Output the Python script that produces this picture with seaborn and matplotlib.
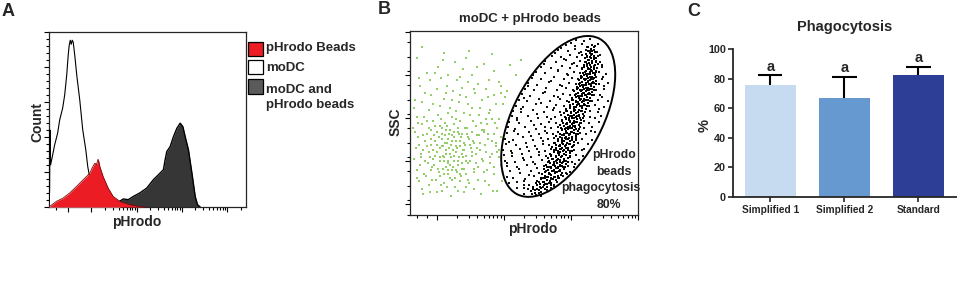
import numpy as np
import matplotlib
matplotlib.use("Agg")
import matplotlib.pyplot as plt
import matplotlib.transforms as mtransforms
from matplotlib.patches import Ellipse, Rectangle
from matplotlib.ticker import FixedLocator, MultipleLocator
import seaborn as sns

# ---------------- data ----------------
# panel A: flow histograms (x = pHrodo in decades, y = % of max count)
modc_x = [0.063, 0.074, 0.081, 0.096, 0.141, 0.185, 0.252, 0.296, 0.363, 0.407, 0.452, 0.485,
          0.507, 0.530, 0.552, 0.574, 0.596, 0.630, 0.674, 0.741, 0.807, 0.874, 0.918, 0.963,
          1.030, 1.185, 1.407, 1.630]
modc_y = [0.2, 9.9, 44.0, 24.1, 29.8, 35.5, 42.3, 49.7, 56.6, 64.0, 75.4, 86.7,
          92.4, 95.3, 93.0, 95.3, 94.2, 86.7, 75.4, 61.1, 44.0, 32.7, 23.0, 16.7,
          9.9, 4.2, 1.3, 0.2]

beads_x = [0.074, 0.222, 0.370, 0.518, 0.667, 0.814, 0.963, 1.020, 1.074, 1.110, 1.147,
           1.165, 1.185, 1.258, 1.370, 1.481, 1.630, 1.852, 2.074, 2.222]
beads_y = [0.3, 3.2, 5.1, 8.0, 11.7, 15.5, 19.3, 22.6, 25.0, 24.2, 27.3,
           25.8, 23.1, 17.4, 10.8, 6.0, 3.2, 1.3, 0.3, 0.0]

both_x = [1.407, 1.592, 1.703, 1.814, 1.925, 2.074, 2.223, 2.370, 2.481, 2.592, 2.630,
          2.667, 2.741, 2.814, 2.890, 2.963, 3.023, 3.074, 3.147, 3.223, 3.296, 3.347, 3.407]
both_y = [0.0, 2.7, 4.6, 4.2, 6.0, 8.1, 10.8, 15.6, 18.4, 21.3, 27.0,
          31.7, 34.5, 40.2, 45.0, 47.9, 45.9, 40.2, 32.6, 19.4, 6.0, 1.3, 0.0]

legend_labels = ["pHrodo Beads", "moDC", "moDC and\npHrodo beads"]

# panel B: dot plot events (x = pHrodo decades, y = SSC scale 0-100)
ungated_pts = [
    (-0.22, 91), (0.11, 88), (0.48, 89), (0.27, 83), (0.70, 82), (1.09, 81), (1.25, 84),
    (-0.15, 77), (0.39, 79), (0.60, 80), (0.86, 78), (0.02, 80), (1.18, 76), (-0.30, 85),
    (-0.33, 62), (-0.25, 70), (-0.18, 66), (-0.10, 73), (-0.05, 60), (0.00, 68), (0.06, 74),
    (0.10, 63), (0.15, 70), (0.20, 58), (0.24, 67), (0.30, 73), (0.33, 61), (0.38, 69),
    (0.43, 64), (0.47, 72), (0.52, 58), (0.57, 66), (0.62, 71), (0.68, 62), (0.73, 68),
    (0.80, 57), (0.85, 65), (0.92, 72), (0.98, 60), (1.05, 67), (1.01, 64), (0.95, 66),
    (0.28, 56), (-0.12, 57),
    (-0.30, 53), (-0.14, 51), (0.02, 54), (0.12, 50), (0.22, 53), (0.35, 51), (0.50, 54),
    (0.66, 50), (0.82, 52), (0.92, 52), (0.78, 55),
    (-0.35, 47), (-0.22, 49), (-0.08, 46), (0.05, 48), (0.14, 46), (0.26, 49), (0.31, 45),
    (0.42, 47), (0.58, 48), (0.71, 46), (0.90, 47), (0.86, 44), (0.75, 49),
    (-0.28, 42), (-0.17, 40), (-0.04, 43), (0.08, 41), (0.18, 44), (0.23, 40), (0.36, 42),
    (0.45, 44), (0.54, 40), (0.63, 43), (0.77, 41), (0.95, 42), (0.88, 39), (0.70, 45),
    (-0.31, 36), (-0.20, 35), (-0.09, 38), (0.00, 34), (0.07, 37), (0.13, 35), (0.21, 38),
    (0.29, 34), (0.34, 37), (0.41, 35), (0.49, 38), (0.60, 36), (0.74, 34), (0.88, 37),
    (0.92, 35), (0.82, 33),
    (-0.34, 30), (-0.24, 31), (-0.13, 28), (-0.02, 32), (0.04, 29), (0.11, 31), (0.17, 28),
    (0.25, 32), (0.32, 29), (0.39, 31), (0.46, 28), (0.53, 32), (0.67, 30), (0.79, 28),
    (0.93, 31), (0.96, 27),
    (-0.29, 24), (-0.19, 22), (-0.07, 26), (0.03, 23), (0.09, 25), (0.16, 22), (0.24, 26),
    (0.30, 23), (0.37, 25), (0.44, 22), (0.56, 25), (0.70, 23), (0.85, 26), (0.98, 23),
    (-0.26, 18), (-0.12, 16), (-0.01, 19), (0.10, 17), (0.19, 20), (0.27, 15), (0.35, 18),
    (0.48, 17), (0.61, 19), (0.78, 16), (0.97, 18),
    (-0.21, 11), (0.01, 12), (0.21, 10), (0.40, 12), (0.66, 11), (0.90, 13),
    (-0.15, 44), (-0.11, 34), (-0.06, 30), (-0.03, 40), (0.01, 45), (0.04, 36), (0.09, 32),
    (0.12, 43), (0.15, 39), (0.16, 29), (0.19, 33), (0.22, 24), (0.26, 42), (0.28, 37),
    (0.31, 27), (0.33, 44), (0.37, 33), (0.40, 39), (0.43, 29), (0.05, 21), (0.13, 26),
    (0.20, 46), (0.27, 20), (-0.09, 24), (0.08, 47), (0.36, 21), (0.47, 42), (0.52, 34),
    (0.58, 28), (0.64, 39),
    (-0.32, 45), (-0.27, 38), (-0.25, 27), (-0.23, 33), (-0.20, 43), (-0.18, 29), (-0.16, 21),
    (-0.14, 37), (-0.12, 47), (-0.10, 31), (-0.08, 41), (-0.07, 19), (-0.05, 35), (-0.04, 27),
    (-0.02, 48), (0.00, 38), (0.02, 25), (0.03, 42), (0.05, 31), (0.06, 16), (0.07, 44),
    (0.09, 37), (0.10, 22), (0.11, 29), (0.12, 39), (0.14, 33), (0.15, 48), (0.16, 24),
    (0.17, 41), (0.18, 36), (0.20, 27), (0.21, 31), (0.22, 43), (0.23, 19), (0.24, 35),
    (0.25, 45), (0.26, 29), (0.28, 40), (0.29, 24), (0.30, 36), (0.32, 47), (0.33, 31),
    (0.34, 22), (0.35, 40), (0.37, 28), (0.38, 44), (0.39, 35), (0.41, 25), (0.42, 38),
    (0.44, 32), (0.45, 47), (0.46, 19), (0.48, 41), (0.50, 29), (0.51, 36), (0.53, 45),
    (0.55, 23), (0.56, 39), (0.59, 33), (0.60, 43), (0.62, 26), (0.65, 35), (0.67, 46),
    (0.69, 29), (0.72, 38), (0.75, 24), (0.77, 44), (0.80, 31), (0.83, 40), (0.86, 22),
    (0.89, 34), (-0.30, 20), (-0.22, 14), (-0.10, 12), (0.07, 13), (0.15, 15), (0.31, 13),
    (0.44, 15), (0.55, 14), (0.72, 18), (0.84, 13), (-0.28, 50), (-0.19, 53), (-0.06, 51),
    (0.06, 52), (0.17, 55), (0.29, 52), (0.41, 55), (0.54, 51), (0.63, 54), (0.74, 52),
    (0.87, 50),
    (-0.34, 58), (-0.22, 61), (-0.08, 65), (0.04, 59), (0.13, 66), (0.22, 62), (0.35, 65),
    (0.46, 60), (0.55, 68), (0.65, 58), (0.77, 64), (0.88, 60), (-0.27, 74), (-0.02, 77),
    (0.17, 76), (0.35, 75), (0.53, 76), (0.78, 73), (0.96, 70), (0.09, 84), (0.44, 85),
    (0.83, 87),
]

gated_pts = [
    (1.30, 11.3), (1.42, 11.3), (1.48, 10.4), (1.52, 11.9), (1.55, 10.2),
    (1.20, 14.6), (1.30, 14.6), (1.36, 13.9), (1.46, 13.5), (1.58, 14.9), (1.64, 13.2), (1.71, 14.4),
    (1.08, 17.2), (1.20, 17.4), (1.30, 16.0), (1.38, 16.3), (1.52, 17.8), (1.62, 16.6), (1.68, 17.2),
    (1.74, 16.1), (1.79, 17.6),
    (1.04, 20.6), (1.14, 20.1), (1.31, 19.4), (1.45, 20.8), (1.58, 19.8), (1.65, 20.6), (1.70, 19.2),
    (1.75, 20.3), (1.81, 19.7), (1.88, 20.9),
    (1.09, 23.5), (1.24, 22.4), (1.40, 23.8), (1.53, 22.7), (1.63, 23.4), (1.69, 22.2), (1.74, 23.9),
    (1.79, 22.9), (1.84, 23.6), (1.92, 22.5), (1.98, 23.2),
    (1.05, 26.2), (1.19, 25.6), (1.34, 26.9), (1.49, 25.3), (1.60, 26.5), (1.68, 25.9), (1.73, 26.8),
    (1.78, 25.4), (1.83, 26.3), (1.88, 25.7), (1.95, 26.6), (2.05, 25.9),
    (1.02, 29.3), (1.16, 28.5), (1.30, 29.8), (1.44, 28.7), (1.57, 29.5), (1.66, 28.3), (1.73, 29.9),
    (1.78, 28.9), (1.83, 29.6), (1.88, 28.4), (1.93, 29.2), (2.01, 28.8), (2.12, 29.7),
    (1.00, 32.4), (1.12, 31.6), (1.27, 32.9), (1.41, 31.4), (1.53, 32.6), (1.63, 31.8), (1.71, 32.2),
    (1.77, 31.3), (1.82, 32.8), (1.87, 31.9), (1.92, 32.5), (1.98, 31.5), (2.07, 32.3), (2.18, 31.7),
    (0.99, 35.1), (1.10, 34.4), (1.24, 35.7), (1.38, 34.6), (1.50, 35.4), (1.61, 34.3), (1.70, 35.8),
    (1.77, 34.9), (1.83, 35.5), (1.88, 34.5), (1.93, 35.9), (1.99, 34.7), (2.05, 35.3), (2.16, 34.8),
    (1.03, 38.3), (1.18, 37.6), (1.33, 38.8), (1.47, 37.4), (1.59, 38.5), (1.68, 37.9), (1.76, 38.6),
    (1.82, 37.5), (1.87, 38.9), (1.92, 37.7), (1.97, 38.2), (2.03, 37.3), (2.10, 38.7), (2.25, 38.1),
    (1.01, 41.2), (1.14, 40.6), (1.29, 41.9), (1.43, 40.4), (1.56, 41.6), (1.66, 40.8), (1.74, 41.4),
    (1.81, 40.3), (1.87, 41.8), (1.92, 40.9), (1.97, 41.5), (2.02, 40.5), (2.08, 41.7), (2.17, 41.1),
    (2.31, 40.7),
    (1.04, 44.4), (1.21, 43.6), (1.37, 44.8), (1.52, 43.5), (1.64, 44.2), (1.73, 43.8), (1.81, 44.7),
    (1.87, 43.4), (1.92, 44.5), (1.97, 43.9), (2.02, 44.8), (2.07, 43.7), (2.13, 44.3), (2.22, 43.6),
    (2.36, 44.6),
    (1.06, 47.3), (1.16, 46.7), (1.32, 47.8), (1.48, 46.5), (1.61, 47.5), (1.71, 46.9), (1.80, 47.7),
    (1.87, 46.4), (1.93, 47.2), (1.98, 46.8), (2.03, 47.9), (2.08, 46.6), (2.13, 47.4), (2.20, 46.9),
    (2.32, 47.6),
    (1.08, 50.2), (1.22, 49.6), (1.40, 50.8), (1.55, 49.4), (1.68, 50.5), (1.78, 49.8), (1.86, 50.6),
    (1.93, 49.3), (1.98, 50.9), (2.03, 49.7), (2.08, 50.4), (2.13, 49.5), (2.19, 50.7), (2.27, 49.9),
    (2.42, 50.3),
    (1.12, 53.4), (1.19, 52.6), (1.36, 53.7), (1.51, 52.4), (1.65, 53.2), (1.76, 52.8), (1.85, 53.9),
    (1.93, 52.5), (1.99, 53.5), (2.04, 52.7), (2.09, 53.8), (2.14, 52.3), (2.20, 53.3), (2.29, 52.9),
    (2.45, 53.6),
    (1.14, 56.3), (1.26, 55.7), (1.44, 56.8), (1.60, 55.5), (1.73, 56.6), (1.84, 55.9), (1.93, 56.4),
    (2.00, 55.4), (2.06, 56.9), (2.11, 55.8), (2.16, 56.5), (2.21, 55.6), (2.28, 56.2), (2.40, 55.9),
    (1.18, 59.2), (1.29, 58.6), (1.48, 59.8), (1.64, 58.4), (1.78, 59.5), (1.89, 58.8), (1.98, 59.6),
    (2.05, 58.5), (2.11, 59.9), (2.16, 58.7), (2.21, 59.3), (2.27, 58.9), (2.36, 59.7), (2.50, 58.6),
    (1.22, 62.3), (1.34, 61.7), (1.53, 62.8), (1.69, 61.5), (1.83, 62.6), (1.94, 61.9), (2.03, 62.4),
    (2.10, 61.4), (2.15, 62.9), (2.20, 61.8), (2.25, 62.5), (2.31, 61.6), (2.40, 62.2), (2.55, 61.9),
    (1.27, 65.4), (1.39, 64.6), (1.58, 65.8), (1.74, 64.5), (1.88, 65.6), (1.99, 64.9), (2.07, 65.3),
    (2.13, 64.4), (2.18, 65.9), (2.23, 64.8), (2.28, 65.5), (2.34, 64.7), (2.44, 65.2),
    (1.32, 68.3), (1.45, 67.6), (1.63, 68.7), (1.79, 67.4), (1.93, 68.5), (2.03, 67.8), (2.11, 68.6),
    (2.17, 67.5), (2.22, 68.9), (2.27, 67.7), (2.32, 68.4), (2.38, 67.9), (2.50, 68.2),
    (1.36, 71.2), (1.50, 70.6), (1.68, 71.8), (1.84, 70.4), (1.97, 71.5), (2.07, 70.8), (2.14, 71.6),
    (2.20, 70.3), (2.25, 71.9), (2.30, 70.7), (2.35, 71.4), (2.42, 70.9), (2.55, 71.3),
    (1.42, 74.4), (1.56, 73.6), (1.74, 74.8), (1.89, 73.5), (2.01, 74.3), (2.10, 73.9), (2.17, 74.6),
    (2.23, 73.4), (2.28, 74.9), (2.33, 73.8), (2.38, 74.5), (2.46, 73.7),
    (1.48, 77.3), (1.62, 76.7), (1.80, 77.8), (1.94, 76.5), (2.05, 77.4), (2.14, 76.9), (2.21, 77.6),
    (2.26, 76.4), (2.31, 77.9), (2.36, 76.8), (2.42, 77.2), (2.52, 76.6),
    (1.55, 80.2), (1.70, 79.6), (1.86, 80.7), (1.99, 79.4), (2.09, 80.5), (2.17, 79.8), (2.24, 80.6),
    (2.29, 79.3), (2.34, 80.8), (2.39, 79.7), (2.46, 80.3),
    (1.62, 83.4), (1.77, 82.7), (1.92, 83.8), (2.04, 82.5), (2.13, 83.3), (2.21, 82.9), (2.27, 83.7),
    (2.32, 82.4), (2.37, 83.6), (2.43, 82.8),
    (1.72, 86.3), (1.85, 85.6), (1.98, 86.7), (2.09, 85.4), (2.17, 86.5), (2.24, 85.8), (2.30, 86.6),
    (2.35, 85.5), (2.41, 86.2),
    (1.80, 89.2), (1.95, 88.6), (2.06, 89.7), (2.15, 88.4), (2.22, 89.4), (2.28, 88.8), (2.34, 89.5),
    (2.39, 88.5),
    (1.93, 92.1), (2.06, 91.5), (2.16, 92.6), (2.24, 91.3), (2.31, 92.3), (2.36, 91.7),
    (2.08, 95.0), (2.20, 94.4), (2.29, 95.3),
    (1.05, 27.8), (1.12, 33.5), (1.08, 39.6), (1.15, 45.2), (1.20, 51.5), (1.25, 57.4),
    (1.30, 63.1), (1.36, 69.6), (1.44, 75.6), (1.60, 81.7), (1.76, 87.6), (1.85, 90.7),
    (1.22, 24.6), (1.28, 30.7), (1.35, 36.9), (1.40, 42.6), (1.45, 48.7), (1.50, 54.6),
    (1.56, 60.5), (1.62, 66.4), (1.70, 72.3), (1.80, 78.4), (1.90, 84.5), (2.00, 93.3),
    (1.30, 18.3), (1.38, 21.6), (1.46, 27.6), (1.52, 33.7), (1.58, 39.7), (1.62, 45.6),
    (1.70, 51.7), (1.74, 57.7), (1.80, 63.7), (1.86, 69.8), (1.95, 75.8), (2.02, 81.8),
    (2.12, 87.8), (2.30, 45.5), (2.36, 52.2), (2.42, 57.3), (2.47, 63.6), (2.50, 70.1),
    (2.48, 74.8), (2.47, 81.3), (2.44, 86.9), (2.40, 92.5), (2.20, 35.6), (2.06, 27.4),
    (1.94, 21.8), (1.74, 15.6),
]

gated_core = [
    (1.40, 12.8), (1.46, 11.9), (1.52, 13.1), (1.56, 12.2),
    (1.44, 15.2), (1.49, 16.1), (1.54, 14.8), (1.60, 15.9), (1.65, 15.0), (1.70, 16.3),
    (1.50, 18.2), (1.55, 19.1), (1.60, 17.9), (1.65, 18.9), (1.69, 18.1), (1.73, 19.3), (1.78, 18.5),
    (1.57, 21.8), (1.62, 20.9), (1.67, 22.1), (1.71, 21.2), (1.76, 22.3), (1.80, 21.0), (1.85, 21.7),
    (1.60, 24.9), (1.66, 24.0), (1.71, 25.1), (1.75, 24.2), (1.80, 25.3), (1.84, 24.4), (1.89, 24.8),
    (1.63, 27.1), (1.69, 28.0), (1.74, 27.3), (1.79, 28.2), (1.83, 27.0), (1.87, 27.8), (1.92, 27.4),
    (1.66, 30.9), (1.72, 30.1), (1.77, 31.2), (1.81, 30.3), (1.85, 31.0), (1.89, 30.2), (1.95, 30.7),
    (1.69, 33.1), (1.75, 34.0), (1.80, 33.3), (1.84, 34.2), (1.89, 33.0), (1.93, 33.9), (1.99, 33.5),
    (1.72, 36.9), (1.78, 36.1), (1.83, 37.2), (1.87, 36.3), (1.91, 37.0), (1.95, 36.2), (2.01, 36.8),
    (1.75, 39.1), (1.81, 40.0), (1.86, 39.3), (1.90, 40.2), (1.94, 39.0), (1.98, 39.8), (2.04, 39.4),
    (1.78, 42.9), (1.84, 42.1), (1.89, 43.2), (1.93, 42.3), (1.97, 43.0), (2.01, 42.2), (2.07, 42.7),
    (1.81, 45.1), (1.87, 46.0), (1.92, 45.3), (1.96, 46.2), (2.00, 45.0), (2.04, 45.8), (2.10, 45.4),
    (1.83, 48.9), (1.89, 48.1), (1.94, 49.2), (1.98, 48.3), (2.02, 49.0), (2.06, 48.2), (2.12, 48.7),
    (1.86, 51.1), (1.92, 52.0), (1.97, 51.3), (2.01, 52.2), (2.05, 51.0), (2.09, 51.8), (2.15, 51.4),
    (1.89, 54.9), (1.95, 54.1), (2.00, 55.2), (2.04, 54.3), (2.08, 55.0), (2.12, 54.2), (2.18, 54.7),
    (1.93, 57.1), (1.99, 58.0), (2.04, 57.3), (2.08, 58.2), (2.12, 57.0), (2.16, 57.8), (2.22, 57.4),
    (1.97, 60.9), (2.03, 60.1), (2.08, 61.2), (2.12, 60.3), (2.16, 61.0), (2.20, 60.2), (2.25, 60.7),
    (2.01, 63.1), (2.07, 64.0), (2.12, 63.3), (2.16, 64.2), (2.20, 63.0), (2.24, 63.8), (2.29, 63.4),
    (2.05, 66.9), (2.11, 66.1), (2.15, 67.2), (2.19, 66.3), (2.23, 67.0), (2.27, 66.2), (2.31, 66.7),
    (2.09, 69.1), (2.14, 70.0), (2.18, 69.3), (2.22, 70.2), (2.26, 69.0), (2.30, 69.8), (2.34, 69.4),
    (2.12, 72.9), (2.17, 72.1), (2.21, 73.2), (2.25, 72.3), (2.29, 73.0), (2.33, 72.2), (2.37, 72.7),
    (2.15, 75.1), (2.20, 76.0), (2.24, 75.3), (2.28, 76.2), (2.32, 75.0), (2.36, 75.8),
    (2.17, 78.9), (2.22, 78.1), (2.26, 79.2), (2.30, 78.3), (2.34, 79.0), (2.38, 78.2),
    (2.19, 81.1), (2.24, 82.0), (2.28, 81.3), (2.32, 82.2), (2.36, 81.0), (2.40, 81.8),
    (2.21, 84.9), (2.26, 84.1), (2.30, 85.2), (2.34, 84.3), (2.38, 85.0),
    (2.23, 87.1), (2.28, 88.0), (2.32, 87.3), (2.36, 88.2),
    (2.25, 90.9), (2.30, 90.1), (2.34, 91.0),
    (1.44, 14.0), (1.50, 13.6), (1.56, 14.3), (1.61, 13.8),
    (1.48, 17.0), (1.54, 16.6), (1.59, 17.4), (1.64, 16.8), (1.70, 17.3),
    (1.55, 20.0), (1.61, 19.6), (1.66, 20.4), (1.71, 19.8), (1.76, 20.3), (1.82, 19.9),
    (1.61, 23.1), (1.67, 22.7), (1.72, 23.5), (1.77, 22.9), (1.82, 23.4), (1.87, 22.8),
    (1.65, 26.0), (1.71, 25.6), (1.76, 26.4), (1.81, 25.8), (1.86, 26.3), (1.91, 25.7),
    (1.68, 29.1), (1.74, 28.6), (1.79, 29.4), (1.84, 28.8), (1.89, 29.3), (1.95, 28.7),
    (1.71, 32.0), (1.77, 31.6), (1.82, 32.4), (1.87, 31.8), (1.92, 32.3), (1.98, 31.7),
    (1.74, 35.1), (1.80, 34.6), (1.85, 35.4), (1.90, 34.8), (1.95, 35.3), (2.01, 34.7),
    (1.77, 38.0), (1.83, 37.6), (1.88, 38.4), (1.93, 37.8), (1.98, 38.3), (2.04, 37.7),
    (1.80, 41.1), (1.86, 40.6), (1.91, 41.4), (1.96, 40.8), (2.01, 41.3), (2.07, 40.7),
    (1.83, 44.0), (1.89, 43.6), (1.94, 44.4), (1.99, 43.8), (2.04, 44.3), (2.10, 43.7),
    (1.85, 47.1), (1.91, 46.6), (1.96, 47.4), (2.01, 46.8), (2.06, 47.3), (2.12, 46.7),
    (1.88, 50.0), (1.94, 49.6), (1.99, 50.4), (2.04, 49.8), (2.09, 50.3), (2.15, 49.7),
    (1.91, 53.1), (1.97, 52.6), (2.02, 53.4), (2.07, 52.8), (2.12, 53.3), (2.18, 52.7),
    (1.94, 56.0), (2.00, 55.6), (2.05, 56.4), (2.10, 55.8), (2.15, 56.3), (2.21, 55.7),
    (1.98, 59.1), (2.04, 58.6), (2.09, 59.4), (2.14, 58.8), (2.19, 59.3), (2.24, 58.7),
    (2.02, 62.0), (2.08, 61.6), (2.13, 62.4), (2.18, 61.8), (2.23, 62.3), (2.28, 61.7),
    (2.06, 65.1), (2.11, 64.6), (2.16, 65.4), (2.21, 64.8), (2.26, 65.3), (2.31, 64.7),
    (2.09, 68.0), (2.14, 67.6), (2.19, 68.4), (2.24, 67.8), (2.29, 68.3), (2.34, 67.7),
    (2.12, 71.1), (2.17, 70.6), (2.22, 71.4), (2.27, 70.8), (2.32, 71.3), (2.37, 70.7),
    (2.15, 74.0), (2.20, 73.6), (2.25, 74.4), (2.30, 73.8), (2.35, 74.3),
    (2.18, 77.1), (2.23, 76.6), (2.28, 77.4), (2.33, 76.8), (2.38, 77.3),
    (2.20, 80.0), (2.25, 79.6), (2.30, 80.4), (2.35, 79.8),
    (2.22, 83.1), (2.27, 82.6), (2.32, 83.4), (2.37, 82.8),
    (2.24, 86.0), (2.29, 85.6), (2.34, 86.4),
    (2.26, 89.1), (2.31, 88.6),
]
gate_lines = ["pHrodo", "beads", "phagocytosis", "80%"]

# panel C: phagocytosis (%)
groups = ["Simplified 1", "Simplified 2", "Standard"]
means = [76.0, 67.2, 82.6]
errs = [6.3, 14.3, 5.4]
letters = ["a", "a", "a"]
bar_colors = ["#c6dbf0", "#6699cf", "#2c3e95"]

# ---------------- style ----------------
sns.set_style("ticks")
plt.rcParams["font.family"] = ["Liberation Sans", "DejaVu Sans"]
plt.rcParams["font.weight"] = "bold"
plt.rcParams["axes.linewidth"] = 0.9

W, H = 957, 287
fig = plt.figure(figsize=(W / 100, H / 100), dpi=100)


def px(x0, y0, x1, y1):
    # pixel box -> figure fraction [left, bottom, width, height]
    return [x0 / W, 1 - y1 / H, (x1 - x0) / W, (y1 - y0) / H]


def fpt(x, y):
    return x / W, 1 - y / H


# ---------------- panel A ----------------
axA = fig.add_axes(px(49, 32, 246, 207))
axA.fill_between(both_x, both_y, color="#363636", zorder=1, lw=0)
sns.lineplot(x=both_x, y=both_y, ax=axA, color="black", lw=1.0, zorder=2)
axA.fill_between(modc_x, modc_y, color="white", zorder=3, lw=0)
sns.lineplot(x=modc_x, y=modc_y, ax=axA, color="black", lw=0.8, zorder=4)
axA.fill_between(beads_x, beads_y, color="#ec1c24", zorder=5, lw=0)
sns.lineplot(x=beads_x, y=beads_y, ax=axA, color="#7a0a0a", lw=0.6, zorder=6)
axA.set_xlim(0.06, 4.42)
axA.set_ylim(0, 100)
axA.xaxis.set_major_locator(FixedLocator([0.48, 1, 2, 3, 4]))
axA.xaxis.set_minor_locator(FixedLocator(
    [0.22] + [d + np.log10(k) for d in (1, 2, 3) for k in range(2, 10)] + [4.30]))
axA.yaxis.set_major_locator(MultipleLocator(20))
axA.yaxis.set_minor_locator(MultipleLocator(4))
axA.tick_params(which="both", direction="out", labelbottom=False, labelleft=False,
                width=0.8, color="black")
axA.tick_params(which="major", length=3.5)
axA.tick_params(which="minor", length=2)
axA.set_xlabel("")
axA.set_ylabel("")
fig.text(*fpt(137, 222), "pHrodo", ha="center", va="center", fontsize=10, fontweight="bold")
fig.text(*fpt(37, 122), "Count", ha="center", va="center", rotation=90,
         fontsize=10, fontweight="bold")

# legend drawn by hand next to the histogram
leg_fc = ["#ec1c24", "white", "#5a5a5a"]
leg_box_y = [42, 60, 79.5]
leg_text_y = [48, 68, 97.5]
for fc, by, ty, lab in zip(leg_fc, leg_box_y, leg_text_y, legend_labels):
    x0, y0 = fpt(247.5, by + 14)
    fig.add_artist(Rectangle((x0, y0), 15.5 / W, 14 / H, transform=fig.transFigure,
                             facecolor=fc, edgecolor="black", lw=0.9))
    fig.text(*fpt(266, ty), lab, ha="left", va="center",
             fontsize=9.5, fontweight="bold", linespacing=1.3)

# ---------------- panel B ----------------
axB = fig.add_axes(px(410, 30.5, 638, 214.5))
sns.scatterplot(x=[p[0] for p in ungated_pts], y=[p[1] for p in ungated_pts], ax=axB,
                color="#93cf68", s=2.0, marker="s", linewidth=0)
sns.scatterplot(x=[p[0] for p in gated_pts], y=[p[1] for p in gated_pts],
                ax=axB, color="#111111", s=2.0, marker="s", linewidth=0)
sns.scatterplot(x=[p[0] for p in gated_core], y=[p[1] for p in gated_core],
                ax=axB, color="black", s=3.4, marker="s", linewidth=0)
axB.set_xlim(-0.4, 3.0)
axB.set_ylim(0, 100)
axB.xaxis.set_major_locator(FixedLocator([0, 1, 2, 3]))
axB.xaxis.set_minor_locator(FixedLocator(
    [-0.30, -0.15] + [d + np.log10(k) for d in (0, 1, 2) for k in range(2, 10)]))
axB.yaxis.set_major_locator(FixedLocator([5.8, 29.2, 52.6, 76.0, 99.4]))
axB.yaxis.set_minor_locator(MultipleLocator(7.8))
axB.tick_params(which="both", direction="out", labelbottom=False, labelleft=False,
                width=0.8, color="black")
axB.tick_params(which="major", length=3.5)
axB.tick_params(which="minor", length=2)
axB.set_xlabel("")
axB.set_ylabel("")

# gate: tilted ellipse, size given in inches around its centre in data units
gate_tr = fig.dpi_scale_trans + mtransforms.ScaledTranslation(1.81, 53.3, axB.transData)
axB.add_patch(Ellipse((0, 0), 1.76, 0.89, angle=62, transform=gate_tr, fill=False,
                      edgecolor="black", lw=1.4, clip_on=False))

for line, (x, y) in zip(gate_lines, [(614, 155), (614, 172), (601, 188), (609, 205)]):
    fig.text(*fpt(x, y), line, ha="center", va="center", fontsize=8.8, fontweight="bold")
fig.text(*fpt(530, 19), "moDC + pHrodo beads", ha="center", va="center",
         fontsize=9.5, fontweight="bold")
fig.text(*fpt(533, 229), "pHrodo", ha="center", va="center", fontsize=10, fontweight="bold")
fig.text(*fpt(396, 122), "SSC", ha="center", va="center", rotation=90,
         fontsize=10, fontweight="bold")

# ---------------- panel C ----------------
axC = fig.add_axes(px(733, 49.3, 957, 196.7))
sns.barplot(x=groups, y=means, hue=groups, palette=bar_colors, ax=axC, legend=False,
            errorbar=None, width=0.69, saturation=1, linewidth=0)
xs = np.arange(len(groups))
tops = np.array(means) + np.array(errs)
axC.vlines(xs, means, tops, color="black", lw=1.5, zorder=3)
axC.hlines(tops, xs - 0.165, xs + 0.165, color="black", lw=1.5, zorder=3)
for x, t, lab in zip(xs, tops, letters):
    axC.text(x, t + 1.2, lab, ha="center", va="bottom", fontsize=10.5, fontweight="bold")
axC.set_xlim(-0.503, 2.52)
axC.set_ylim(0, 100)
axC.set_yticks([0, 20, 40, 60, 80, 100])
sns.despine(ax=axC)
for s in ("left", "bottom"):
    axC.spines[s].set_linewidth(1.3)
axC.tick_params(axis="y", length=3.5, width=1.2, pad=1.5, labelsize=7.8)
axC.tick_params(axis="x", length=3.5, width=1.2, pad=2.5, labelsize=7.3)
for lab in axC.get_xticklabels() + axC.get_yticklabels():
    lab.set_fontweight("bold")
axC.set_xlabel("")
axC.set_ylabel("")
axC.set_title("Phagocytosis", fontsize=10.5, fontweight="bold", pad=13)
fig.text(*fpt(705, 125), "%", ha="center", va="center", rotation=90,
         fontsize=10.5, fontweight="bold")

# panel letters
for lab, (x, y) in zip("ABC", [(8, 12), (384, 10), (694, 11)]):
    fig.text(*fpt(x, y), lab, ha="center", va="center", fontsize=13, fontweight="bold")

fig.savefig("out.png", dpi=100)
